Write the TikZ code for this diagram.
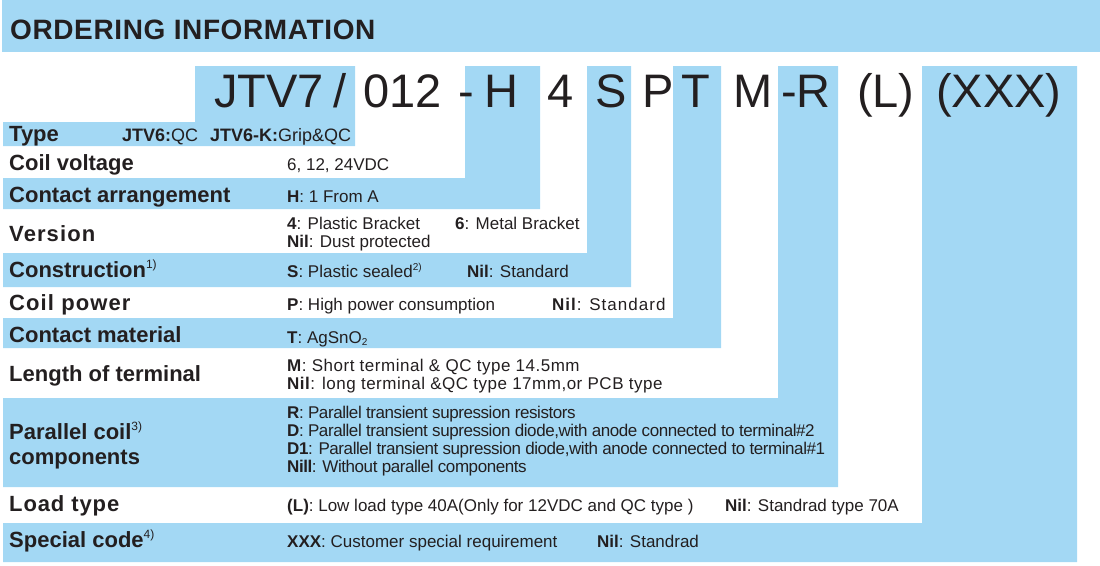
\documentclass[tikz,border=0pt]{standalone}
\usepackage{fontspec}
\setmainfont{Liberation Sans}
\definecolor{skyb}{RGB}{163,216,244}
\definecolor{ink}{RGB}{35,31,32}
\newcommand{\supx}[1]{{\mdseries\fontsize{12}{12}\selectfont\raisebox{9pt}{#1}}}
\newcommand{\supy}[1]{{\mdseries\fontsize{10}{10}\selectfont\raisebox{7pt}{#1}}}
\newcommand{\subx}[1]{{\fontsize{10}{10}\selectfont\raisebox{-2.5pt}{#1}}}
\newcommand{\lsp}[1]{\addfontfeature{LetterSpace=#1}}
\begin{document}
\begin{tikzpicture}[x=1pt,y=-1pt,
  band/.style={fill=skyb,draw=none},
  hdr/.style={anchor=base west,inner sep=0,text=ink,font=\fontsize{28}{30}\selectfont\bfseries},
  code/.style={anchor=base west,inner sep=0,text=ink,font=\fontsize{47}{50}\selectfont},
  lbl/.style={anchor=base west,inner sep=0,text=ink,font=\fontsize{22}{24}\selectfont\bfseries},
  desc/.style={anchor=base west,inner sep=0,text=ink,font=\fontsize{17}{19}\selectfont},
  tdesc/.style={anchor=base west,inner sep=0,text=ink,font=\fontsize{18}{20}\selectfont}]
\useasboundingbox (0,0) rectangle (1100,565);
% header band
\fill[band] (2,0) rectangle (1100,52);
% code columns joined to their rows
\fill[band] (195,66) -- (355,66) -- (355,146) -- (3,146) -- (3,122) -- (195,122) -- cycle;
\fill[band] (465,66) -- (540,66) -- (540,209) -- (3,209) -- (3,178) -- (465,178) -- cycle;
\fill[band] (587,66) -- (631,66) -- (631,287) -- (3,287) -- (3,253) -- (587,253) -- cycle;
\fill[band] (673,66) -- (721,66) -- (721,348) -- (3,348) -- (3,318) -- (673,318) -- cycle;
\fill[band] (778,66) -- (838,66) -- (838,487) -- (3,487) -- (3,398) -- (778,398) -- cycle;
\fill[band] (922,66) -- (1077,66) -- (1077,562) -- (3,562) -- (3,523) -- (922,523) -- cycle;
% header text
\node[hdr] (title) at (10,39) {\lsp{2.2}ORDERING INFORMATION};
% code row
\node[code] (c1) at (214,107) {JTV7};
\node[code] (c2) at (333,107) {/};
\node[code] (c3) at (363,107) {012};
\node[code] (c4) at (458,107) {-};
\node[code] (c5) at (484,107) {H};
\node[code] (c6) at (547,107) {4};
\node[code] (c7) at (595,107) {S};
\node[code] (c8) at (642,107) {P};
\node[code] (c9) at (681,107) {T};
\node[code] (c10) at (733,107) {M};
\node[code] (c11) at (781,107) {-R};
\node[code] (c12) at (857,107) {(L)};
\node[code] (c13) at (936,107) {(XXX)};
% labels
\node[lbl] (l1) at (9,141) {Type};
\node[lbl] (l2) at (9,170) {Coil voltage};
\node[lbl] (l3) at (9,202) {Contact arrangement};
\node[lbl] (l4) at (9,241) {\lsp{5}Version};
\node[lbl] (l5) at (9,277) {Construction\supx{1)}};
\node[lbl] (l6) at (9,310) {\lsp{5}Coil power};
\node[lbl] (l7) at (9,342) {Contact material};
\node[lbl] (l8) at (9,381) {Length of terminal};
\node[lbl] (l9) at (9,439) {Parallel coil\supx{3)}};
\node[lbl] (l10) at (9,464) {components};
\node[lbl] (l11) at (9,511) {\lsp{4}Load type};
\node[lbl] (l12) at (9,547) {Special code\supx{4)}};
% descriptions
\node[tdesc] (d1a) at (122,141) {\textbf{JTV6:}QC};
\node[tdesc] (d1b) at (210,141) {\textbf{JTV6-K:}Grip\&QC};
\node[desc] (d2) at (287,170) {6, 12, 24VDC};
\node[desc] (d3) at (287,202) {\textbf{H}: 1 From A};
\node[desc] (d4a) at (287,229) {\textbf{4}: Plastic Bracket};
\node[desc] (d4b) at (455,229) {\textbf{6}: Metal Bracket};
\node[desc] (d4c) at (287,247) {\textbf{Nil}: Dust protected};
\node[desc] (d5a) at (287,277) {\textbf{S}: Plastic sealed\supy{2)}};
\node[desc] (d5b) at (467,277) {\textbf{Nil}: Standard};
\node[desc] (d6a) at (287,310) {\textbf{P}: High power consumption};
\node[desc] (d6b) at (552,310) {\lsp{6}\textbf{Nil}: Standard};
\node[desc] (d7) at (287,343) {\textbf{T}: AgSnO\subx{2}};
\node[desc] (d8a) at (287,371) {\lsp{3}\textbf{M}: Short terminal \& QC type 14.5mm};
\node[desc] (d8b) at (287,389) {\lsp{3}\textbf{Nil}: long terminal \&QC type 17mm,or PCB type};
\node[desc] (d9a) at (287,418) {\lsp{-2.5}\textbf{R}: Parallel transient supression resistors};
\node[desc] (d9b) at (287,436) {\lsp{-2.5}\textbf{D}: Parallel transient supression diode,with anode connected to terminal\#2};
\node[desc] (d9c) at (287,454) {\lsp{-2.5}\textbf{D1}: Parallel transient supression diode,with anode connected to terminal\#1};
\node[desc] (d9d) at (287,472) {\lsp{-2.5}\textbf{Nill}: Without parallel components};
\node[desc] (d10a) at (287,511) {\textbf{(L)}: Low load type 40A(Only for 12VDC and QC type )};
\node[desc] (d10b) at (725,511) {\textbf{Nil}: Standrad type 70A};
\node[desc] (d11a) at (287,547) {\textbf{XXX}: Customer special requirement};
\node[desc] (d11b) at (597,547) {\textbf{Nil}: Standrad};
\end{tikzpicture}
\end{document}
